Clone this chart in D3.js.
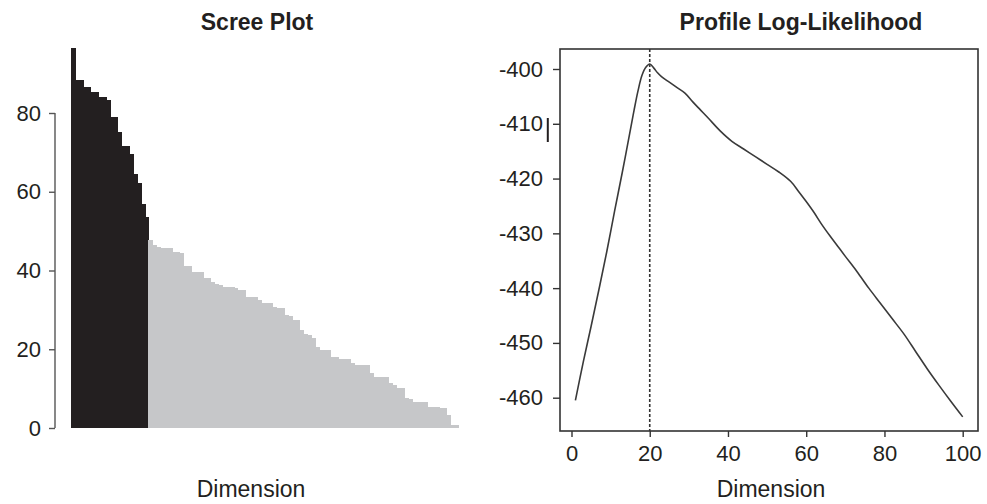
<!DOCTYPE html>
<html>
<head>
<meta charset="utf-8">
<script src="https://cdn.jsdelivr.net/npm/d3@7"></script>
<style>
  body { margin: 0; background: #fff; }
  text { font-family: "Liberation Sans", Arial, sans-serif; fill: #231f20; }
</style>
</head>
<body>
<div id="chart"></div>
<script>
// scree plot: eigenvalue-like heights, dimension 1..100
var screeValues = [
  96.5, 88.3, 88.3, 86.6, 86.6, 85.4, 85.4, 84.1, 84.1, 83.2,
  79.0, 79.0, 75.2, 71.6, 71.6, 69.5, 64.4, 62.3, 56.8, 53.6,
  47.7, 46.4, 46.0, 45.6, 45.6, 45.6, 44.7, 44.7, 44.5, 41.1,
  41.1, 39.7, 39.7, 39.7, 38.0, 38.0, 37.0, 36.5, 36.3, 35.9,
  35.9, 35.9, 35.5, 35.0, 35.0, 33.3, 33.3, 33.3, 32.5, 31.8,
  31.8, 31.8, 30.8, 30.4, 30.4, 28.6, 28.4, 27.4, 27.4, 25.0,
  23.9, 23.6, 22.8, 20.6, 19.8, 19.8, 19.8, 18.1, 18.1, 17.5,
  17.5, 17.5, 16.4, 16.0, 16.0, 16.0, 16.0, 14.0, 13.0, 13.0,
  13.0, 13.0, 11.5, 10.9, 10.1, 10.1, 7.5, 7.3, 6.7, 6.7,
  6.7, 6.7, 5.4, 5.4, 5.4, 5.0, 5.0, 3.3, 0.8, 0.8
];
var selectedDim = 20;
var screeTicks = [0, 20, 40, 60, 80];

// profile log-likelihood
var profileDims = [1, 3, 5, 7, 9, 11, 13, 15, 16, 17, 18, 19, 20, 21, 22, 23, 25, 27, 29, 31,
  33, 35, 38, 41, 44, 47, 50, 53, 56, 58, 60, 62, 64, 66, 68, 70, 73, 76, 79, 82,
  85, 88, 91, 94, 97, 100];
var profileLL = [-460.5, -453.5, -447.0, -440.3, -433.4, -426.0, -418.8, -411.3, -407.5, -404.0,
  -401.2, -399.7, -399.1, -399.8, -400.7, -401.4, -402.4, -403.4, -404.4, -406.0,
  -407.5, -409.0, -411.3, -413.2, -414.6, -416.0, -417.4, -418.8, -420.5, -422.3,
  -424.2, -426.2, -428.4, -430.4, -432.3, -434.2, -437.0, -440.0, -442.8, -445.6,
  -448.4, -451.6, -454.8, -457.8, -460.7, -463.5];
var profileYTicks = [-460, -450, -440, -430, -420, -410, -400];
var profileXTicks = [0, 20, 40, 60, 80, 100];

var width = 987, height = 504;
var ink = "#231f20";
var plain = function (d) { return String(d); };

var svg = d3.select("#chart").append("svg")
  .attr("width", width)
  .attr("height", height);

// ---------- left panel: scree plot ----------
var dims = screeValues.map(function (d, i) { return i + 1; });
var xBand = d3.scaleBand().domain(dims).range([71, 458]).padding(0);
var yScree = d3.scaleLinear().domain([0, 80]).range([428, 113]);

svg.append("g").attr("shape-rendering", "crispEdges").selectAll("rect")
  .data(screeValues)
  .enter()
  .append("rect")
  .attr("x", function (d, i) { return xBand(i + 1); })
  .attr("width", xBand.bandwidth() + 1)
  .attr("y", function (d) { return yScree(d); })
  .attr("height", function (d) { return yScree(0) - yScree(d); })
  .attr("fill", function (d, i) { return i < selectedDim ? ink : "#c6c7c9"; });

var screeAxis = svg.append("g")
  .attr("transform", "translate(55,0)")
  .call(d3.axisLeft(yScree).tickValues(screeTicks).tickFormat(plain).tickSize(6).tickPadding(8));
screeAxis.select(".domain").attr("stroke", "#555").attr("stroke-width", 1.4)
  .attr("d", "M0," + yScree(0) + "V" + yScree(80));
screeAxis.selectAll(".tick line").attr("stroke", "#555").attr("stroke-width", 1.4);
screeAxis.selectAll(".tick text").attr("font-size", 22).attr("fill", ink)
  .style("font-family", "Liberation Sans, Arial, sans-serif");

svg.append("text").attr("x", 257).attr("y", 30)
  .attr("text-anchor", "middle").attr("font-size", 23).attr("font-weight", "bold")
  .text("Scree Plot");
svg.append("text").attr("x", 251).attr("y", 497)
  .attr("text-anchor", "middle").attr("font-size", 23)
  .text("Dimension");

// ---------- right panel: profile log-likelihood ----------
var box = { left: 560, right: 978, top: 49, bottom: 431 };
var xProf = d3.scaleLinear().domain([0, 100]).range([571.5, 962.7]);
var yProf = d3.scaleLinear().domain([-460, -400]).range([397.7, 69]);

svg.append("rect")
  .attr("x", box.left).attr("y", box.top)
  .attr("width", box.right - box.left).attr("height", box.bottom - box.top)
  .attr("fill", "none").attr("stroke", "#333").attr("stroke-width", 1.6);

var yAx = svg.append("g")
  .attr("transform", "translate(" + box.left + ",0)")
  .call(d3.axisLeft(yProf).tickValues(profileYTicks).tickFormat(plain).tickSize(7).tickPadding(10));
yAx.select(".domain").remove();
yAx.selectAll(".tick line").attr("stroke", "#333").attr("stroke-width", 1.4);
yAx.selectAll(".tick text").attr("font-size", 22).attr("fill", ink)
  .style("font-family", "Liberation Sans, Arial, sans-serif");

var xAx = svg.append("g")
  .attr("transform", "translate(0," + box.bottom + ")")
  .call(d3.axisBottom(xProf).tickValues(profileXTicks).tickFormat(plain).tickSize(6).tickPadding(8));
xAx.select(".domain").remove();
xAx.selectAll(".tick line").attr("stroke", "#333").attr("stroke-width", 1.4);
xAx.selectAll(".tick text").attr("font-size", 22).attr("fill", ink)
  .style("font-family", "Liberation Sans, Arial, sans-serif");

// dotted marker at the chosen dimension
svg.append("line")
  .attr("x1", xProf(selectedDim)).attr("x2", xProf(selectedDim))
  .attr("y1", box.top).attr("y2", box.bottom)
  .attr("stroke", "#333").attr("stroke-width", 1.6)
  .attr("stroke-dasharray", "3,2");

var line = d3.line()
  .x(function (d, i) { return xProf(profileDims[i]); })
  .y(function (d) { return yProf(d); })
  .curve(d3.curveCatmullRom);

svg.append("path")
  .datum(profileLL)
  .attr("d", line)
  .attr("fill", "none")
  .attr("stroke", "#3a3a3a")
  .attr("stroke-width", 1.6);

// small stray bar beside the -410 label
svg.append("rect").attr("x", 546.8).attr("y", 118).attr("width", 2).attr("height", 24).attr("fill", ink);

svg.append("text").attr("x", 801).attr("y", 30)
  .attr("text-anchor", "middle").attr("font-size", 23).attr("font-weight", "bold")
  .text("Profile Log-Likelihood");
svg.append("text").attr("x", 771).attr("y", 497)
  .attr("text-anchor", "middle").attr("font-size", 23)
  .text("Dimension");
</script>
</body>
</html>
